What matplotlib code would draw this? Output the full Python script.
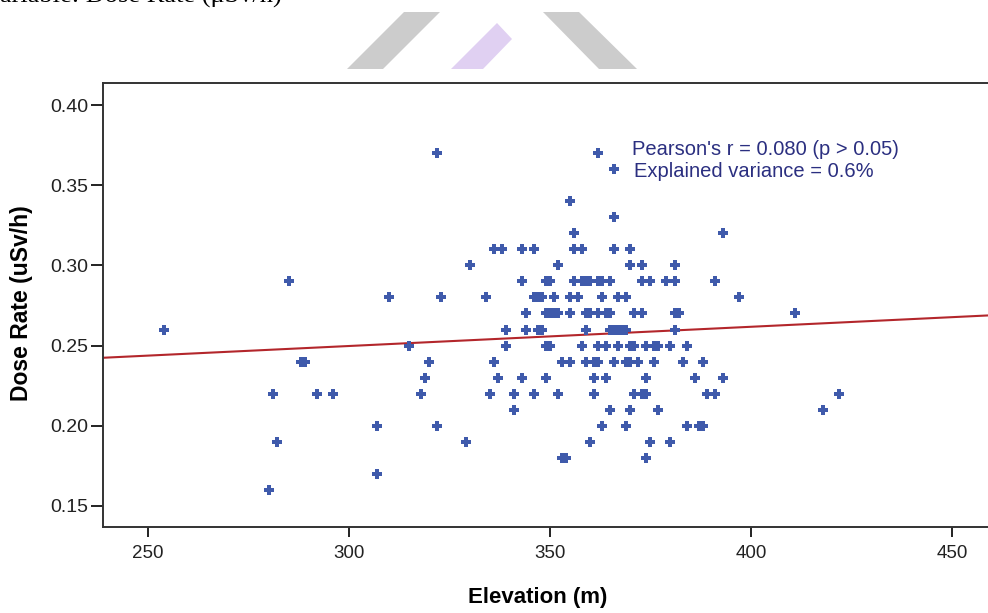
import matplotlib.pyplot as plt
from matplotlib.patches import Polygon
import numpy as np

# Dose rate levels (uSv/h) and the elevations (m) observed at each level
levels = [0.37, 0.36, 0.34, 0.33, 0.32, 0.31, 0.30, 0.29, 0.28, 0.27, 0.26,
          0.25, 0.24, 0.23, 0.22, 0.21, 0.20, 0.19, 0.18, 0.17, 0.16]
elev_037 = [322, 362]
elev_036 = [366]
elev_034 = [355]
elev_033 = [366]
elev_032 = [356, 393]
elev_031 = [336, 338, 343, 346, 356, 358, 366, 370]
elev_030 = [330, 352, 370, 373, 381]
elev_029 = [285, 343, 349, 350, 356, 358, 359, 360, 362, 363, 365, 373, 375, 379, 381, 391]
elev_028 = [310, 323, 334, 346, 347, 348, 351, 355, 357, 363, 367, 369, 397]
elev_027 = [344, 349, 350, 351, 352, 355, 359, 360, 362, 364, 365, 371, 373, 381, 382, 411]
elev_026 = [254, 339, 344, 347, 348, 359, 365, 366, 367, 368, 369, 381]
elev_025 = [315, 339, 349, 350, 358, 362, 364, 367, 370, 371, 374, 376, 377, 380, 384]
elev_024 = [288, 289, 320, 336, 353, 355, 359, 361, 362, 366, 369, 370, 372, 376, 383, 388]
elev_023 = [319, 337, 343, 349, 361, 364, 374, 386, 393]
elev_022 = [281, 292, 296, 318, 335, 341, 346, 352, 361, 371, 373, 374, 389, 391, 422]
elev_021 = [341, 365, 370, 377, 418]
elev_020 = [307, 322, 363, 369, 384, 387, 388]
elev_019 = [282, 329, 360, 375, 380]
elev_018 = [353, 354, 374]
elev_017 = [307]
elev_016 = [280]

groups = [elev_037, elev_036, elev_034, elev_033, elev_032, elev_031, elev_030,
          elev_029, elev_028, elev_027, elev_026, elev_025, elev_024, elev_023,
          elev_022, elev_021, elev_020, elev_019, elev_018, elev_017, elev_016]

# Fit line
fit_intercept = 0.2137
fit_slope = 0.00012

stats_lines = ["Pearson's r = 0.080 (p > 0.05)", "Explained variance = 0.6%"]
x_ticks = [250, 300, 350, 400, 450]
y_ticks = [0.15, 0.20, 0.25, 0.30, 0.35, 0.40]

W, H = 988, 613
fig = plt.figure(figsize=(W / 100, H / 100), dpi=100)

# cropped page remnants above the chart
fig.text(0, 1 - 3 / H, "ariable: Dose Rate (\u03bcSv/h)", family="Liberation Serif",
         fontsize=19, va="baseline", ha="left", color="black")
shapes = [
    ([(404, 12), (440, 12), (383, 69), (347, 69)], "#cccccc"),
    ([(497, 23), (512, 39), (483, 69), (451, 69)], "#e0d0f2"),
    ([(543, 12), (579, 12), (637, 69), (599, 69)], "#cccccc"),
]
for pts, col in shapes:
    fig.patches.append(Polygon([(px / W, 1 - py / H) for px, py in pts], closed=True,
                               transform=fig.transFigure, facecolor=col, edgecolor="none"))

ax = fig.add_axes([103 / W, 1 - 527 / H, 1 - 103 / W, (527 - 83) / H])

xs, ys = [], []
for lvl, g in zip(levels, groups):
    xs += g
    ys += [lvl] * len(g)
ax.scatter(xs, ys, marker="P", s=50, color="#3f5aab", linewidths=0, zorder=3)

ax.set_xlim(238.8, 459)
ax.set_ylim(0.1367, 0.4139)
lx = np.array(ax.get_xlim())
ax.plot(lx, fit_intercept + fit_slope * lx, color="#b3262b", lw=1.5, zorder=2)

for i, s in enumerate(stats_lines):
    ax.annotate(s, xy=(632 / W + 0.002 * i, 1 - (149.5 + 22.4 * i) / H), xycoords="figure fraction",
                fontsize=14.5, family="Liberation Sans", color="#2b2f80", va="center", ha="left")

ax.set_xticks(x_ticks)
ax.set_yticks(y_ticks)
ax.set_yticklabels([f"{v:.2f}" for v in y_ticks], family="Liberation Sans", fontsize=14)
ax.set_xticklabels([str(v) for v in x_ticks], family="Liberation Sans", fontsize=13.5)
ax.tick_params(axis="y", direction="out", length=9, width=1.4, pad=1.5, colors="#222222")
ax.tick_params(axis="x", direction="out", length=7, width=1.4, pad=6, colors="#222222")

for side in ["left", "bottom", "top"]:
    ax.spines[side].set_linewidth(1.4)
    ax.spines[side].set_color("#333333")
ax.spines["right"].set_visible(False)

ax.set_xlabel("Elevation (m)", family="Liberation Sans", fontweight="bold", fontsize=16)
ax.xaxis.set_label_coords((538 - 103) / (W - 103), -(597 - 527) / (527 - 83))
ax.xaxis.label.set_va("center")
ax.set_ylabel("Dose Rate (uSv/h)", family="Liberation Sans", fontweight="bold", fontsize=16.5)
ax.yaxis.set_label_coords(-(103 - 22) / (W - 103), (527 - 303) / (527 - 83))
ax.yaxis.label.set_va("center")

fig.savefig("out.png", dpi=100)
